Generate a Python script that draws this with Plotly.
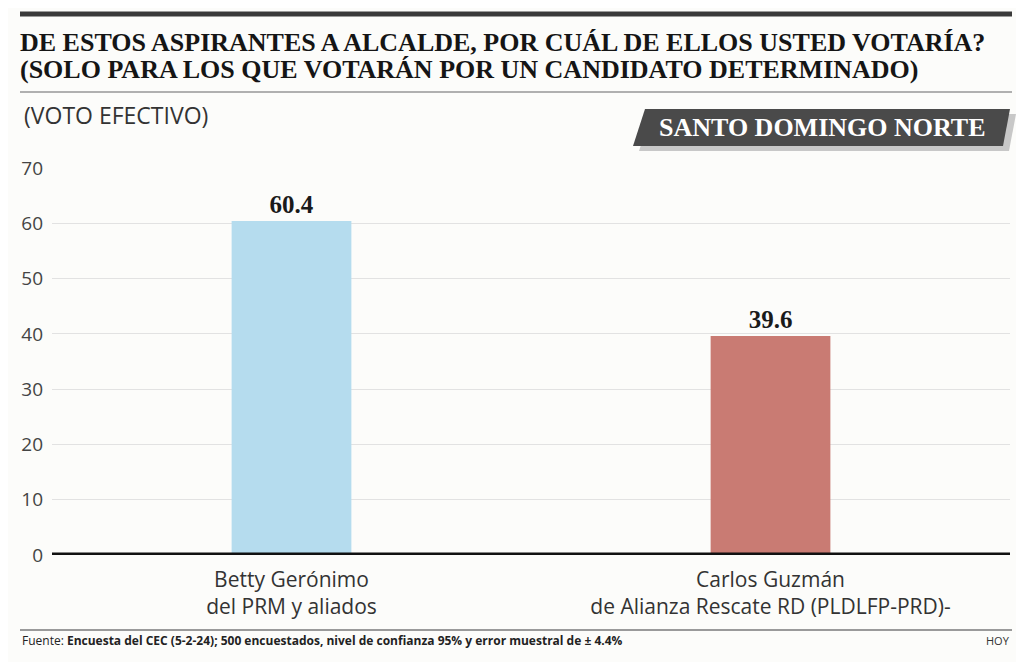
import plotly.graph_objects as go

candidatos = ["Betty Gerónimo<br>del PRM y aliados",
              "Carlos Guzmán<br>de Alianza Rescate RD (PLDLFP-PRD)-"]
votos = [60.4, 39.6]
colores = ["#b5dcee", "#c97b73"]
ticks_y = [0, 10, 20, 30, 40, 50, 60, 70]

# page has an 8px body margin, so the figure is drawn a bit smaller
OFF = 8
W, H = 1024 - 2 * OFF, 670 - 2 * OFF
L, R, T, B = 52, 1010, 168, 555  # plot area in screen pixels


def px(x):
    return (x - L) / (R - L)


def py(y):
    return (B - y) / (B - T)


fig = go.Figure(go.Bar(
    x=candidatos, y=votos,
    marker=dict(color=colores, line=dict(width=0)),
    text=[f"<b>{v:.1f}</b>" for v in votos],
    textposition="outside",
    textfont=dict(family="Liberation Serif", size=25, color="#1a1a1a"),
    cliponaxis=False,
))

serif = "Liberation Serif"
sans = "Open Sans"

shapes = [
    # top rule
    dict(type="line", xref="paper", yref="paper", x0=px(20), x1=px(1012), y0=py(14), y1=py(14),
         line=dict(color="#3a3a3a", width=5)),
    # rule under title
    dict(type="line", xref="paper", yref="paper", x0=px(20), x1=px(1012), y0=py(92), y1=py(92),
         line=dict(color="#b0b0b0", width=2)),
    # badge shadow
    dict(type="path", xref="paper", yref="paper",
         path=f"M {px(651)} {py(114)} L {px(1016)} {py(114)} L {px(1009)} {py(151)} L {px(639)} {py(151)} Z",
         fillcolor="#c8c8c8", line=dict(width=0)),
    # badge
    dict(type="path", xref="paper", yref="paper",
         path=f"M {px(645)} {py(109)} L {px(1010)} {py(109)} L {px(1003)} {py(146)} L {px(633)} {py(146)} Z",
         fillcolor="#4a4a4a", line=dict(width=0)),
    # zero axis line
    dict(type="line", xref="paper", yref="y", x0=px(52), x1=px(1010), y0=0, y1=0,
         line=dict(color="#111111", width=5)),
    # footer rule
    dict(type="line", xref="paper", yref="paper", x0=px(20), x1=px(1012), y0=py(630), y1=py(630),
         line=dict(color="#9a9a9a", width=2)),
]

annotations = [
    dict(text="<b>DE ESTOS ASPIRANTES A ALCALDE, POR CUÁL DE ELLOS USTED VOTARÍA?</b>",
         xref="paper", yref="paper", x=px(18), y=py(42), xanchor="left", yanchor="middle",
         showarrow=False, font=dict(family=serif, size=26, color="#151515")),
    dict(text="<b>(SOLO PARA LOS QUE VOTARÁN POR UN CANDIDATO DETERMINADO)</b>",
         xref="paper", yref="paper", x=px(18), y=py(69), xanchor="left", yanchor="middle",
         showarrow=False, font=dict(family=serif, size=26, color="#151515")),
    dict(text="(VOTO EFECTIVO)", xref="paper", yref="paper", x=px(22), y=py(115),
         xanchor="left", yanchor="middle", showarrow=False,
         font=dict(family=sans, size=23, color="#333333")),
    dict(text="<b>SANTO DOMINGO NORTE</b>", xref="paper", yref="paper", x=px(822), y=py(127),
         xanchor="center", yanchor="middle", showarrow=False,
         font=dict(family=serif, size=26, color="#ffffff")),
    dict(text="Fuente: <b>Encuesta del CEC (5-2-24); 500 encuestados, nivel de confianza 95% "
              "y error muestral de ± 4.4%</b>",
         xref="paper", yref="paper", x=px(20), y=py(640), xanchor="left", yanchor="middle",
         showarrow=False, font=dict(family=sans, size=12, color="#222222")),
    dict(text="HOY", xref="paper", yref="paper", x=px(1012), y=py(640), xanchor="right",
         yanchor="middle", showarrow=False, font=dict(family=sans, size=11, color="#333333")),
]

fig.update_layout(
    width=W, height=H,
    margin=dict(l=L - OFF, r=(1024 - OFF) - R, t=T - OFF, b=(670 - OFF) - B),
    paper_bgcolor="#fcfcfa", plot_bgcolor="#fcfcfa",
    showlegend=False,
    bargap=0.75,
    shapes=shapes,
    annotations=annotations,
    xaxis=dict(showgrid=False, showline=False, ticks="", ticklabelstandoff=10,
               tickfont=dict(family=sans, size=21, color="#333333")),
    yaxis=dict(range=[0, 70], tickvals=ticks_y, showgrid=True, gridcolor="#e2e2e2", gridwidth=1,
               zeroline=False, showline=False, ticks="", ticklabelstandoff=8,
               tickfont=dict(family=sans, size=19, color="#444444")),
)

fig.write_html("out.html")
